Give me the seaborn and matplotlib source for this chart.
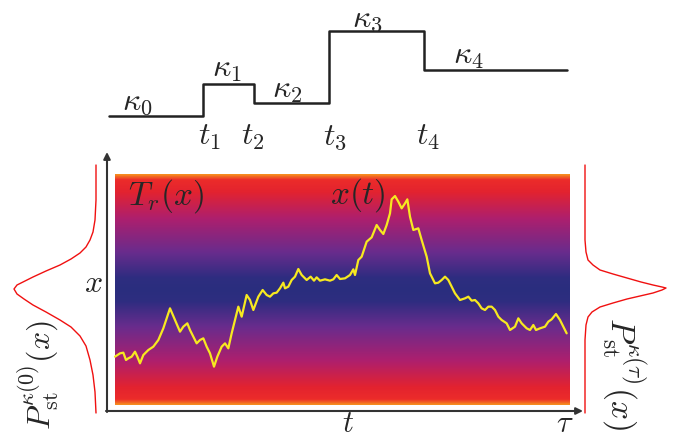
import numpy as np
import seaborn as sns
import matplotlib.pyplot as plt
from matplotlib.colors import LinearSegmentedColormap

sns.set_theme(style='white')
plt.rcParams['mathtext.fontset'] = 'cm'
plt.rcParams['font.family'] = ['DejaVu Sans']

# everything is placed in reference pixel coordinates (x right, y down)

# protocol kappa(t): switching times and levels
step_t = [109, 203, 254, 329, 424, 567]
step_k = [116, 84, 103, 31, 70, 70]
kappa_labels = [r'$\kappa_0$', r'$\kappa_1$', r'$\kappa_2$', r'$\kappa_3$', r'$\kappa_4$']
kappa_pos = [(137, 102), (227, 69), (287, 90), (367, 19), (468, 56)]
t_labels = [r'$t_1$', r'$t_2$', r'$t_3$', r'$t_4$']
t_pos = [209, 253, 335, 428]

traj_zx = [45, 60, 70, 78, 85, 95, 105, 112, 120, 130, 145, 160, 175, 190, 210, 225, 240, 250,
           262, 270, 280, 290, 300, 310, 320, 330, 342, 352, 365, 375, 385, 395, 415, 425, 440,
           450, 460, 475, 488, 500, 510, 520, 530, 540, 550, 555, 565, 575, 585, 595, 605, 620,
           632, 642, 650, 660, 675, 690, 700, 710, 720, 735, 750, 760, 765, 775, 785, 800, 815,
           830, 840, 850, 860, 870, 875, 885, 895, 905, 915, 922, 930, 940, 955, 965, 980, 990,
           1005, 1015, 1025, 1035, 1045, 1055, 1065, 1080, 1095, 1105, 1115, 1125, 1135, 1145,
           1155, 1165, 1175, 1185, 1195, 1205, 1220, 1230, 1245, 1255, 1265, 1280, 1290, 1300,
           1308, 1320, 1335, 1345, 1355, 1368, 1380, 1390, 1400]
traj_zy = [590, 580, 578, 600, 595, 590, 575, 590, 610, 585, 570, 560, 540, 505, 445, 480, 515,
           500, 490, 510, 530, 550, 540, 535, 560, 580, 620, 590, 560, 550, 565, 520, 440, 470,
           405, 420, 450, 410, 390, 405, 410, 400, 398, 385, 368, 385, 380, 360, 350, 327, 345,
           360, 350, 362, 352, 362, 358, 362, 358, 345, 357, 355, 345, 328, 345, 300, 290, 245,
           232, 195, 210, 222, 195, 160, 118, 108, 125, 145, 130, 118, 170, 210, 205, 240, 290,
           340, 370, 368, 360, 350, 360, 380, 400, 420, 415, 410, 422, 420, 430, 445, 450, 440,
           440, 450, 470, 480, 490, 510, 500, 475, 490, 505, 510, 495, 510, 505, 500, 485, 478,
           462, 480, 500, 520]
traj_t = 100 + np.array(traj_zx) / 3
traj_x = 160 + np.array(traj_zy) / 3

# stationary distributions (red curves)
left_p = [96, 96, 95, 93, 90, 86, 80, 71, 60, 46, 33, 23, 17, 14, 17, 24, 33, 46, 60, 71, 80,
          86, 90, 93, 95, 96]
left_x = [165, 200, 220, 232, 240, 247, 253, 259, 265, 271, 277, 282, 285, 289, 294, 299, 305,
          312, 320, 327, 336, 346, 360, 375, 392, 413]
right_p = [585, 585, 586, 588, 593, 600, 613, 627, 641, 653, 662, 666, 662, 653, 640, 627, 613,
           600, 592, 588, 586, 585, 585]
right_x = [165, 240, 252, 260, 265, 270, 274, 278, 282, 285, 287, 288, 290, 293, 296, 299, 303,
           307, 312, 317, 325, 340, 413]

# temperature profile colours, from centre of panel outward
tr_stops = [0.0, 0.1, 0.32, 0.62, 0.85, 0.955, 1.0]
tr_colors = ['#2a2e7e', '#2e2d80', '#682c8d', '#ae1f6d', '#e3232f', '#ec2c2a', '#f68f1f']

fig = plt.figure(figsize=(6.8, 4.38), dpi=100)
ax = fig.add_axes([0, 0, 1, 1])
ax.set_xlim(0, 680)
ax.set_ylim(438, 0)
ax.axis('off')

# gradient panel T_r(x)
cmap = LinearSegmentedColormap.from_list('tr', list(zip(tr_stops, tr_colors)))
dist = np.abs(np.linspace(-1, 1, 400))[:, None]
ax.imshow(dist, cmap=cmap, vmin=0, vmax=1, aspect='auto',
          extent=[115, 570, 405, 174], interpolation='bilinear', zorder=1)

# axes arrows
arrow = dict(arrowstyle='-|>', color='#333333', lw=1.5, mutation_scale=10, shrinkA=0, shrinkB=0)
ax.annotate('', xy=(107, 152), xytext=(107, 412), arrowprops=arrow)
ax.annotate('', xy=(583, 411), xytext=(106, 411), arrowprops=arrow)

# protocol
sns.lineplot(x=step_t, y=step_k, ax=ax, color='#222222', lw=1.8, drawstyle='steps-post',
             sort=False, estimator=None)
for lab, (px, py) in zip(kappa_labels, kappa_pos):
    ax.text(px, py, lab, fontsize=23, ha='center', va='center')
for lab, px in zip(t_labels, t_pos):
    ax.text(px, 137, lab, fontsize=23, ha='center', va='center')

# trajectory
sns.lineplot(x=traj_t, y=traj_x, ax=ax, color='#f7e920', lw=1.6, sort=False, estimator=None,
             zorder=3)

# distributions
sns.lineplot(x=left_p, y=left_x, ax=ax, color='#f01010', lw=1.0, sort=False, estimator=None)
sns.lineplot(x=right_p, y=right_x, ax=ax, color='#f01010', lw=1.0, sort=False, estimator=None)

# labels
ax.text(166, 196, r'$T_r(x)$', fontsize=24, ha='center', va='center', zorder=4)
ax.text(358, 195, r'$x(t)$', fontsize=24, ha='center', va='center', zorder=4)
ax.text(93, 284, r'$x$', fontsize=23, ha='center', va='center')
ax.text(348, 423, r'$t$', fontsize=22, ha='center', va='center')
ax.text(565, 423, r'$\tau$', fontsize=22, ha='center', va='center')
ax.text(38, 375, r'$P_{\mathrm{st}}^{\kappa(0)}(x)$', fontsize=23, rotation=90,
        ha='center', va='center')
ax.text(624, 373, r'$P_{\mathrm{st}}^{\kappa(\tau)}(x)$', fontsize=24, rotation=-90,
        ha='center', va='center')

fig.savefig('out.png', dpi=100)
